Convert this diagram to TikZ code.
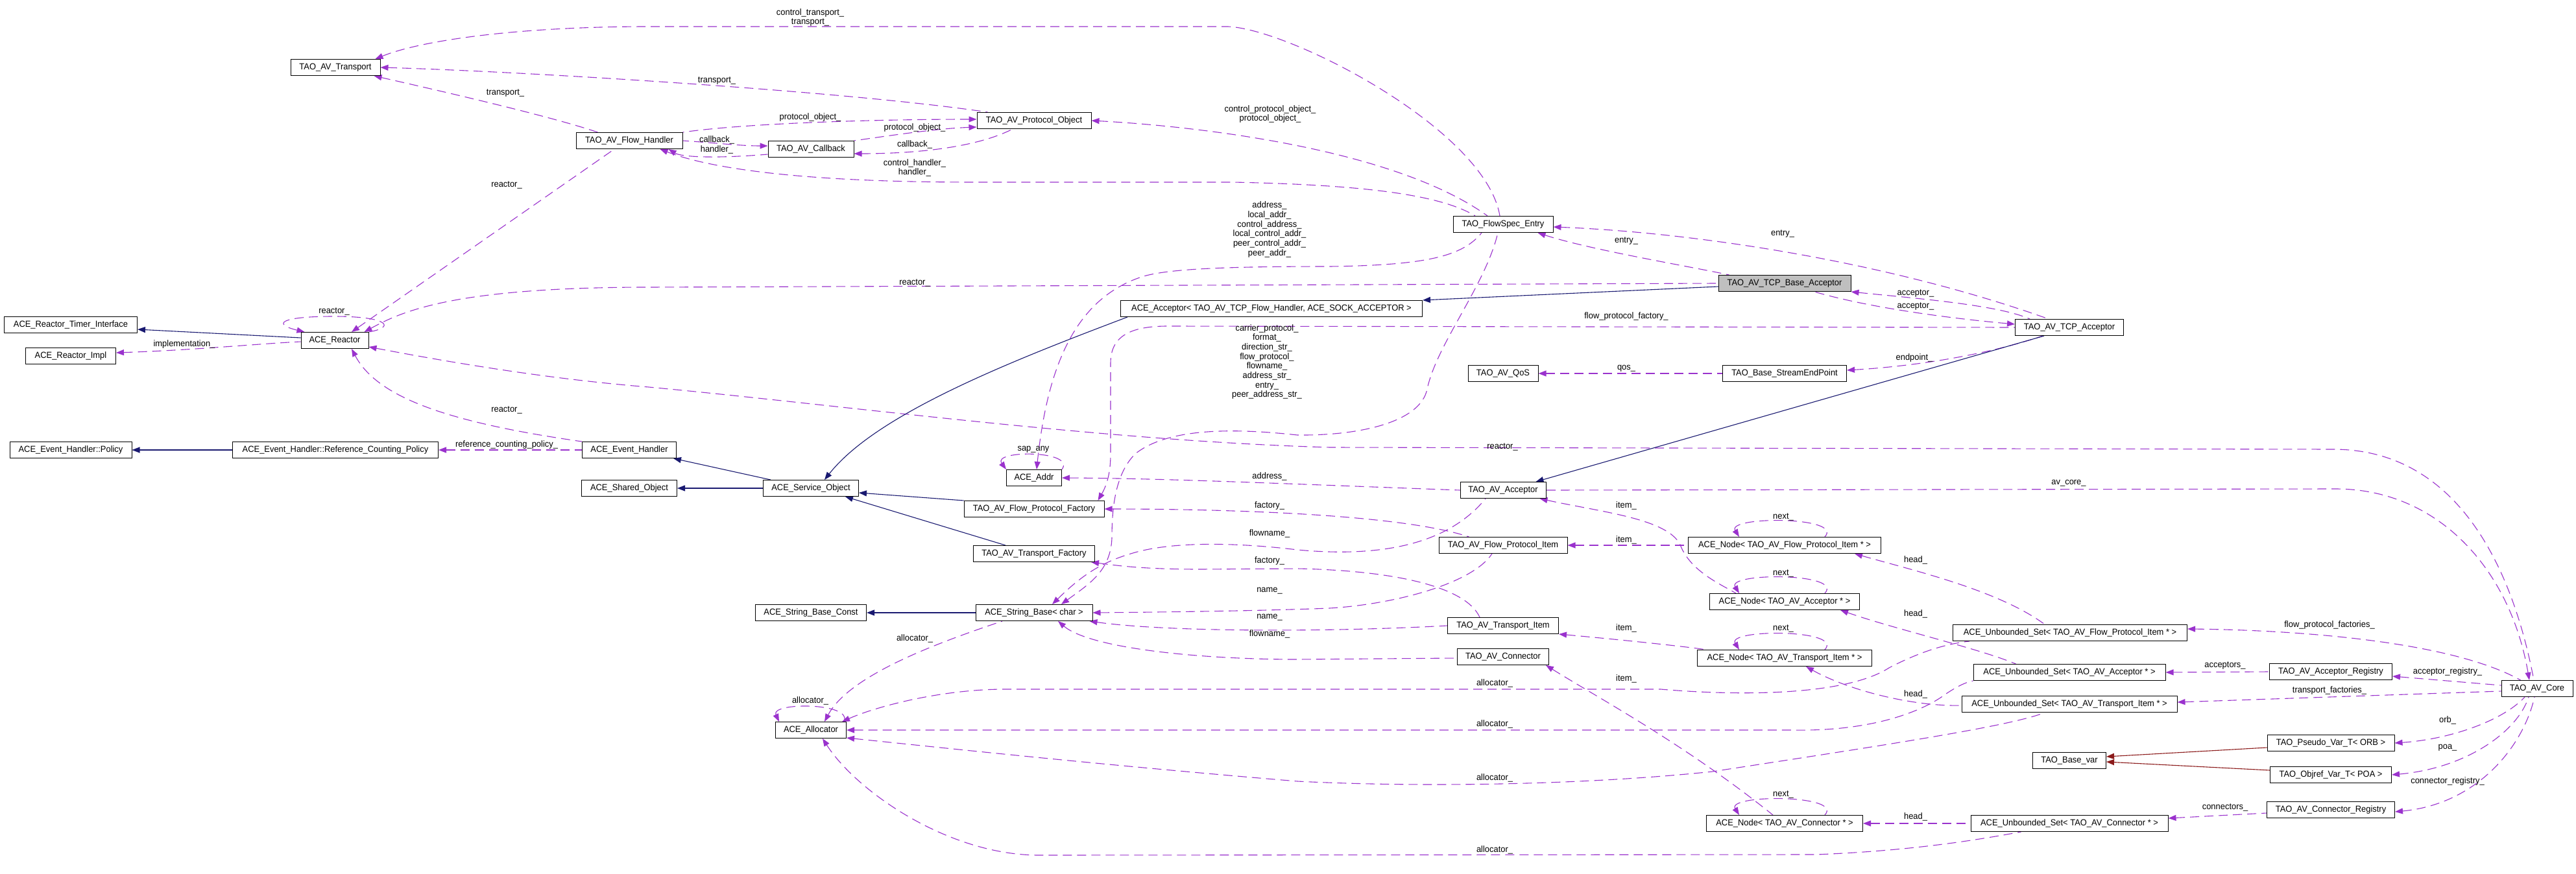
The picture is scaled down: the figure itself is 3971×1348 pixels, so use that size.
\documentclass[tikz,border=0pt]{standalone}
\usepackage{fontspec}
\setmainfont{Liberation Sans}[FakeStretch=0.95]
\usetikzlibrary{arrows.meta,calc}
\definecolor{depcol}{HTML}{9A32CD}
\definecolor{inhcol}{HTML}{191970}
\definecolor{privcol}{HTML}{8B1A1A}
\definecolor{focuscol}{HTML}{BFBFBF}
\newcommand{\fsz}{\fontsize{13.6}{14.7}\selectfont}
\pgfdeclarelayer{bg}
\pgfsetlayers{bg,main}
\begin{document}
\begin{tikzpicture}[x=1pt,y=-1pt,
 cls/.style={draw=black, line width=1pt, fill=white, minimum height=25pt, inner xsep=2pt, inner ysep=0pt, font=\fsz, anchor=center},
 lbl/.style={font=\fsz, inner sep=0pt, align=center},
 usedge/.style={draw=depcol, line width=1.1pt, dash pattern=on 14pt off 8pt, {Triangle[length=12pt,width=9pt]}-},
 inhedge/.style={draw=inhcol, line width=1.1pt, {Triangle[length=12pt,width=9pt]}-},
 privedge/.style={draw=privcol, line width=1.1pt, {Triangle[length=12pt,width=9pt]}-}]
\useasboundingbox (0,0) rectangle (3971,1348);

% ---------- classes ----------
\node[cls,minimum width=138pt] (tr) at (517,104) {TAO\_AV\_Transport};
\node[cls,minimum width=164pt] (fh) at (970,217) {TAO\_AV\_Flow\_Handler};
\node[cls,minimum width=132pt] (cb) at (1250,230) {TAO\_AV\_Callback};
\node[cls,minimum width=176pt] (po) at (1594,186) {TAO\_AV\_Protocol\_Object};
\node[cls,minimum width=154pt] (fse) at (2317,346) {TAO\_FlowSpec\_Entry};
\node[cls,minimum width=204pt,fill=focuscol] (tba) at (2751,437) {TAO\_AV\_TCP\_Base\_Acceptor};
\node[cls,minimum width=465pt] (aacc) at (1960,476) {ACE\_Acceptor< TAO\_AV\_TCP\_Flow\_Handler, ACE\_SOCK\_ACCEPTOR >};
\node[cls,minimum width=167pt] (tcpa) at (3190,505) {TAO\_AV\_TCP\_Acceptor};
\node[cls,minimum width=205pt] (rti) at (109,501) {ACE\_Reactor\_Timer\_Interface};
\node[cls,minimum width=104pt] (rea) at (516,525) {ACE\_Reactor};
\node[cls,minimum width=139pt] (rimp) at (109,549) {ACE\_Reactor\_Impl};
\node[cls,minimum width=108pt] (qos) at (2317,576) {TAO\_AV\_QoS};
\node[cls,minimum width=191pt] (sep) at (2751,576) {TAO\_Base\_StreamEndPoint};
\node[cls,minimum width=188pt] (pol) at (109,694) {ACE\_Event\_Handler::Policy};
\node[cls,minimum width=317pt] (rcp) at (517,694) {ACE\_Event\_Handler::Reference\_Counting\_Policy};
\node[cls,minimum width=145pt] (eh) at (970,694) {ACE\_Event\_Handler};
\node[cls,minimum width=147pt] (so) at (970,753) {ACE\_Shared\_Object};
\node[cls,minimum width=147pt] (svc) at (1250,753) {ACE\_Service\_Object};
\node[cls,minimum width=85pt] (addr) at (1594,737) {ACE\_Addr};
\node[cls,minimum width=216pt] (fpf) at (1594,785) {TAO\_AV\_Flow\_Protocol\_Factory};
\node[cls,minimum width=187pt] (tf) at (1594,854) {TAO\_AV\_Transport\_Factory};
\node[cls,minimum width=132pt] (avacc) at (2317,756) {TAO\_AV\_Acceptor};
\node[cls,minimum width=198pt] (fpi) at (2317,841) {TAO\_AV\_Flow\_Protocol\_Item};
\node[cls,minimum width=297pt] (nfpi) at (2751,841) {ACE\_Node< TAO\_AV\_Flow\_Protocol\_Item * >};
\node[cls,minimum width=171pt] (sbc) at (1250,945) {ACE\_String\_Base\_Const};
\node[cls,minimum width=180pt] (sb) at (1594,945) {ACE\_String\_Base< char >};
\node[cls,minimum width=109pt] (alloc) at (1250,1126) {ACE\_Allocator};
\node[cls,minimum width=171pt] (ti) at (2317,965) {TAO\_AV\_Transport\_Item};
\node[cls,minimum width=141pt] (conn) at (2317,1013) {TAO\_AV\_Connector};
\node[cls,minimum width=231pt] (nacc) at (2751,928) {ACE\_Node< TAO\_AV\_Acceptor * >};
\node[cls,minimum width=269pt] (nti) at (2751,1015) {ACE\_Node< TAO\_AV\_Transport\_Item * >};
\node[cls,minimum width=241pt] (nconn) at (2751,1270) {ACE\_Node< TAO\_AV\_Connector * >};
\node[cls,minimum width=361pt] (usfpi) at (3191,976) {ACE\_Unbounded\_Set< TAO\_AV\_Flow\_Protocol\_Item * >};
\node[cls,minimum width=296pt] (usacc) at (3190,1037) {ACE\_Unbounded\_Set< TAO\_AV\_Acceptor * >};
\node[cls,minimum width=332pt] (usti) at (3190,1086) {ACE\_Unbounded\_Set< TAO\_AV\_Transport\_Item * >};
\node[cls,minimum width=189pt] (areg) at (3593,1036) {TAO\_AV\_Acceptor\_Registry};
\node[cls,minimum width=110pt] (core) at (3911,1062) {TAO\_AV\_Core};
\node[cls,minimum width=113pt] (bvar) at (3190,1173) {TAO\_Base\_var};
\node[cls,minimum width=196pt] (pvar) at (3593,1146) {TAO\_Pseudo\_Var\_T< ORB >};
\node[cls,minimum width=187pt] (ovar) at (3593,1195) {TAO\_Objref\_Var\_T< POA >};
\node[cls,minimum width=197pt] (creg) at (3593,1249) {TAO\_AV\_Connector\_Registry};
\node[cls,minimum width=304pt] (usconn) at (3190,1270) {ACE\_Unbounded\_Set< TAO\_AV\_Connector * >};

% ---------- labels ----------
\node[lbl] (l1) at (1249,27) {control\_transport\_\\transport\_};
\node[lbl] (l2) at (1105,125) {transport\_};
\node[lbl] (l3) at (779,144) {transport\_};
\node[lbl] (l4) at (781,285) {reactor\_};
\node[lbl] (l5) at (1249,181) {protocol\_object\_};
\node[lbl] (l6) at (1410,197) {protocol\_object\_};
\node[lbl] (l7) at (1105,216) {callback\_};
\node[lbl] (l8) at (1105,231) {handler\_};
\node[lbl] (l9) at (1410,223) {callback\_};
\node[lbl] (l10) at (1410,259) {control\_handler\_\\handler\_};
\node[lbl] (l11) at (1958,176) {control\_protocol\_object\_\\protocol\_object\_};
\node[lbl] (l12) at (1957,354) {address\_\\local\_addr\_\\control\_address\_\\local\_control\_addr\_\\peer\_control\_addr\_\\peer\_addr\_};
\node[lbl] (l13) at (1410,436) {reactor\_};
\node[lbl] (l14) at (515,480) {reactor\_};
\node[lbl] (l16) at (284,531) {implementation\_};
\node[lbl] (l17) at (2316,689) {reactor\_};
\node[lbl] (l18) at (3189,745) {av\_core\_};
\node[lbl] (l19) at (781,632) {reactor\_};
\node[lbl] (l21) at (781,686) {reference\_counting\_policy\_};
\node[lbl] (l28) at (2507,372) {entry\_};
\node[lbl] (l29) at (2748,361) {entry\_};
\node[lbl] (l30a) at (2953,453) {acceptor\_};
\node[lbl] (l30b) at (2953,473) {acceptor\_};
\node[lbl] (l31) at (2507,488) {flow\_protocol\_factory\_};
\node[lbl] (l32) at (2951,552) {endpoint\_};
\node[lbl] (l34) at (2507,568) {qos\_};
\node[lbl] (l35) at (1953,558) {carrier\_protocol\_\\format\_\\direction\_str\_\\flow\_protocol\_\\flowname\_\\address\_str\_\\entry\_\\peer\_address\_str\_};
\node[lbl] (l36) at (1957,735) {address\_};
\node[lbl] (l37) at (1957,780) {factory\_};
\node[lbl] (l38) at (1957,823) {flowname\_};
\node[lbl] (l39) at (1957,865) {factory\_};
\node[lbl] (l40) at (1957,911) {name\_};
\node[lbl] (l41) at (1957,952) {name\_};
\node[lbl] (l42) at (1957,978) {flowname\_};
\node[lbl] (l43) at (2507,780) {item\_};
\node[lbl] (l44) at (2507,833) {item\_};
\node[lbl] (l45) at (2507,969) {item\_};
\node[lbl] (l46) at (2507,1047) {item\_};
\node[lbl] (ln1) at (2749,797) {next\_};
\node[lbl] (ln2) at (2749,884) {next\_};
\node[lbl] (ln3) at (2749,969) {next\_};
\node[lbl] (ln4) at (2749,1225) {next\_};
\node[lbl] (lsap) at (1593,693) {sap\_any};
\node[lbl] (lal) at (1249,1081) {allocator\_};
\node[lbl] (l51) at (1410,985) {allocator\_};
\node[lbl] (l52) at (2304,1054) {allocator\_};
\node[lbl] (l53) at (2304,1117) {allocator\_};
\node[lbl] (l54) at (2304,1200) {allocator\_};
\node[lbl] (l55) at (2304,1311) {allocator\_};
\node[lbl] (lh1) at (2953,864) {head\_};
\node[lbl] (lh2) at (2953,947) {head\_};
\node[lbl] (lh3) at (2953,1071) {head\_};
\node[lbl] (lh4) at (2953,1260) {head\_};
\node[lbl] (l60) at (3591,964) {flow\_protocol\_factories\_};
\node[lbl] (l61) at (3430,1027) {acceptors\_};
\node[lbl] (l62) at (3773,1036) {acceptor\_registry\_};
\node[lbl] (l63) at (3591,1065) {transport\_factories\_};
\node[lbl] (l64) at (3773,1111) {orb\_};
\node[lbl] (l65) at (3773,1153) {poa\_};
\node[lbl] (l66) at (3773,1205) {connector\_registry\_};
\node[lbl] (l67) at (3430,1245) {connectors\_};

% ---------- connectors ----------
\begin{pgfonlayer}{bg}
\draw[usedge] ($(tr.north east)+(-8,0)$) .. controls (650,62) and (800,41) .. (1000,41) -- (1893,41) .. controls (1990,45) and (2290,200) .. ($(fse.north)+(-5,0)$);
\draw[usedge] (tr.east) .. controls (800,110) and (1300,140) .. ($(po.north west)+(17,0)$);
\draw[usedge] ($(tr.south east)+(-10,0)$) .. controls (700,145) and (850,180) .. ($(fh.north west)+(34,0)$);
\draw[usedge] ($(rea.north)+(26,0)$) -- ($(fh.south)+(-23,0)$);
\draw[usedge] ($(po.west)+(0,-2)$) .. controls (1350,184) and (1150,190) .. (fh.north east);
\draw[usedge] ($(po.west)+(0,10)$) .. controls (1450,198) and (1400,205) .. (cb.north east);
\draw[usedge] ($(cb.west)+(0,-5)$) .. controls (1140,225) and (1100,220) .. (fh.east);
\draw[usedge] ($(fh.south east)+(-22,0)$) .. controls (1050,242) and (1100,245) .. ($(cb.west)+(0,8)$);
\draw[usedge] ($(cb.east)+(0,7)$) .. controls (1400,237) and (1500,230) .. ($(po.south)+(-33,0)$);
\draw[usedge] ($(fh.south east)+(-35,0)$) .. controls (1100,262) and (1250,281) .. (1500,281) -- (1900,281) .. controls (2100,285) and (2220,300) .. ($(fse.north)+(-43,0)$);
\draw[usedge] (po.east) .. controls (1850,195) and (2150,230) .. ($(fse.north)+(-24,0)$);
\draw[usedge] ($(addr.north)+(4,0)$) .. controls (1615,560) and (1660,460) .. (1760,427) .. controls (1800,414) and (1900,411) .. (2050,411) .. controls (2200,409) and (2255,395) .. ($(fse.south)+(-33,0)$);
\draw[usedge] ($(rea.north east)+(-7,0)$) .. controls (620,480) and (700,443) .. (1000,443) -- (tba.west);
\draw[usedge] ($(rea.north west)+(6,0)$) .. controls (420,500) and (430,488) .. (515,488) .. controls (600,488) and (610,505) .. (rea.north east);
\draw[inhedge] ($(rti.east)+(0,7)$) -- ($(rea.west)+(0,-4)$);
\draw[usedge] ($(rimp.east)+(0,-5)$) .. controls (300,540) and (400,530) .. ($(rea.west)+(0,2)$);
\draw[usedge] ($(rea.south east)+(0,-3)$) .. controls (700,560) and (850,585) .. (1000,597) .. controls (1300,625) and (1700,680) .. (2050,690) -- (3600,693) .. controls (3780,695) and (3870,860) .. ($(core.north)+(-5,0)$);
\draw[usedge] ($(core.north)+(-12,0)$) .. controls (3870,880) and (3760,754) .. (3600,754) -- (avacc.east);
\draw[usedge] ($(rea.south)+(26,0)$) .. controls (580,610) and (680,650) .. (eh.north west);
\draw[inhedge] (pol.east) -- (rcp.west);
\draw[usedge] (rcp.east) -- (eh.west);
\draw[inhedge] ($(eh.south east)+(-5,0)$) -- ($(svc.north west)+(12,0)$);
\draw[inhedge] (so.east) -- (svc.west);
\draw[inhedge] ($(svc.north)+(21,0)$) .. controls (1350,640) and (1550,560) .. ($(aacc.south west)+(11,0)$);
\draw[inhedge] ($(svc.east)+(0,7)$) -- (fpf.north west);
\draw[inhedge] ($(svc.south)+(53,0)$) -- ($(tf.north)+(-44,0)$);
\draw[inhedge] (aacc.north east) -- ($(tba.west)+(0,5)$);
\draw[inhedge] (sbc.east) -- (sb.west);
\draw[usedge] ($(fse.south east)+(-24,0)$) .. controls (2450,385) and (2600,410) .. ($(tba.north west)+(17,0)$);
\draw[usedge] ($(fse.east)+(0,4)$) .. controls (2600,358) and (2900,400) .. ($(tcpa.north)+(-32,0)$);
\draw[usedge] (tba.south east) .. controls (2950,460) and (3080,470) .. ($(tcpa.north west)+(23,0)$);
\draw[usedge] ($(tcpa.west)+(0,-5)$) .. controls (3050,495) and (2900,480) .. ($(tba.south)+(46,0)$);
\draw[usedge] ($(fpf.north east)+(-10,0)$) .. controls (1708,745) and (1712,725) .. (1712,700) -- (1712,560) .. controls (1712,520) and (1740,503) .. (1800,503) -- (tcpa.west);
\draw[usedge] ($(sep.east)+(0,-5)$) .. controls (2950,565) and (3060,548) .. ($(tcpa.south)+(-41,0)$);
\draw[inhedge] ($(avacc.north east)+(-16,0)$) -- ($(tcpa.south)+(-39,0)$);
\draw[usedge] (qos.east) -- (sep.west);
\draw[usedge] ($(sb.north)+(42,0)$) .. controls (1680,900) and (1712,880) .. (1714,830) .. controls (1714,780) and (1720,730) .. (1750,700) .. controls (1800,660) and (1900,660) .. (2000,671) .. controls (2100,672) and (2190,650) .. (2200,600) .. controls (2215,530) and (2290,440) .. ($(fse.south)+(-8,0)$);
\draw[usedge] (addr.east) .. controls (1800,738) and (1950,745) .. (avacc.west);
\draw[usedge] (fpf.east) .. controls (1850,785) and (2150,790) .. ($(fpi.north west)+(47,0)$);
\draw[usedge] ($(sb.north)+(28,0)$) .. controls (1660,895) and (1690,870) .. (1740,855) .. controls (1800,835) and (1900,836) .. (2000,848) .. controls (2150,862) and (2240,830) .. ($(avacc.south)+(-27,0)$);
\draw[usedge] ($(tf.south east)+(-6,0)$) .. controls (1720,872) and (1760,878) .. (1850,878) -- (2000,877) .. controls (2150,880) and (2260,905) .. ($(ti.north)+(-36,0)$);
\draw[usedge] (sb.east) .. controls (1800,944) and (1950,942) .. (2050,938) .. controls (2150,932) and (2270,900) .. ($(fpi.south)+(-17,0)$);
\draw[usedge] ($(sb.south east)+(-5,0)$) .. controls (1800,975) and (2050,975) .. (ti.west);
\draw[usedge] ($(sb.south)+(37,0)$) .. controls (1680,1000) and (1850,1017) .. (2000,1017) -- ($(conn.west)+(0,2)$);
\draw[usedge] ($(avacc.south east)+(-10,0)$) .. controls (2470,790) and (2570,800) .. (2590,840) .. controls (2605,880) and (2650,900) .. ($(nacc.north west)+(41,0)$);
\draw[usedge] (fpi.east) -- (nfpi.west);
\draw[usedge] (ti.south east) .. controls (2480,985) and (2580,995) .. ($(nti.north west)+(15,0)$);
\draw[usedge] ($(conn.south east)+(-5,0)$) .. controls (2470,1080) and (2600,1150) .. ($(nconn.north)+(-18,0)$);
\foreach \n in {nfpi,nacc,nti,nconn}{
  \draw[usedge] ($(\n.north)+(-70,0)$) .. controls +(-20,-32) and +(30,-32) .. ($(\n.north)+(62,0)$);
}
\draw[usedge] (addr.north west) .. controls +(-22,-30) and +(22,-30) .. (addr.north east);
\draw[usedge] ($(alloc.north west)+(6,0)$) .. controls +(-14,-30) and +(14,-30) .. ($(alloc.north east)+(-4,0)$);
\draw[usedge] ($(alloc.north)+(21,0)$) .. controls (1310,1040) and (1450,990) .. ($(sb.south)+(-49,0)$);
\draw[usedge] ($(alloc.north east)+(-7,0)$) .. controls (1350,1090) and (1450,1063) .. (1550,1063) -- (2560,1063) .. controls (2700,1075) and (2850,1070) .. (2912,1030) .. controls (2960,1005) and (3000,993) .. ($(usfpi.south west)+(26,0)$);
\draw[usedge] (alloc.east) -- (2765,1126) .. controls (2880,1128) and (2960,1100) .. (3000,1070) .. controls (3015,1060) and (3030,1052) .. (usacc.south west);
\draw[usedge] ($(alloc.south east)+(0,-1)$) .. controls (1450,1153) and (1700,1180) .. (2000,1205) .. controls (2200,1215) and (2450,1210) .. (2640,1190) .. controls (2900,1150) and (3100,1120) .. ($(usti.south)+(-38,0)$);
\draw[usedge] ($(alloc.south)+(18,0)$) .. controls (1320,1220) and (1460,1318) .. (1600,1319) -- (2800,1318) .. controls (2950,1312) and (3050,1295) .. ($(usconn.south west)+(78,0)$);
\draw[usedge] ($(nfpi.south east)+(-41,0)$) .. controls (2950,880) and (3080,910) .. ($(usfpi.north)+(-39,0)$);
\draw[usedge] ($(nacc.south east)+(-30,0)$) .. controls (2920,970) and (3050,1000) .. ($(usacc.north west)+(66,0)$);
\draw[usedge] ($(nti.south)+(33,0)$) .. controls (2850,1065) and (2950,1090) .. ($(usti.west)+(0,2)$);
\draw[usedge] (nconn.east) -- (usconn.west);
\draw[usedge] ($(usfpi.east)+(0,-6)$) .. controls (3550,972) and (3780,990) .. ($(core.north west)+(30,0)$);
\draw[usedge] (usacc.east) -- (areg.west);
\draw[usedge] ($(areg.east)+(0,7)$) -- ($(core.west)+(0,-5)$);
\draw[usedge] ($(usti.east)+(0,-3)$) -- ($(core.west)+(0,4)$);
\draw[usedge] (pvar.east) .. controls (3780,1140) and (3860,1110) .. ($(core.south)+(-19,0)$);
\draw[usedge] (ovar.east) .. controls (3800,1185) and (3880,1130) .. ($(core.south)+(-13,0)$);
\draw[usedge] ($(creg.east)+(0,3)$) .. controls (3820,1240) and (3890,1150) .. ($(core.south)+(-4,0)$);
\draw[usedge] ($(usconn.east)+(0,-8)$) -- ($(creg.west)+(0,5)$);
\draw[privedge] ($(bvar.east)+(0,-6)$) -- ($(pvar.west)+(0,7)$);
\draw[privedge] ($(bvar.east)+(0,2)$) -- ($(ovar.west)+(0,-7)$);
\end{pgfonlayer}
\end{tikzpicture}
\end{document}
